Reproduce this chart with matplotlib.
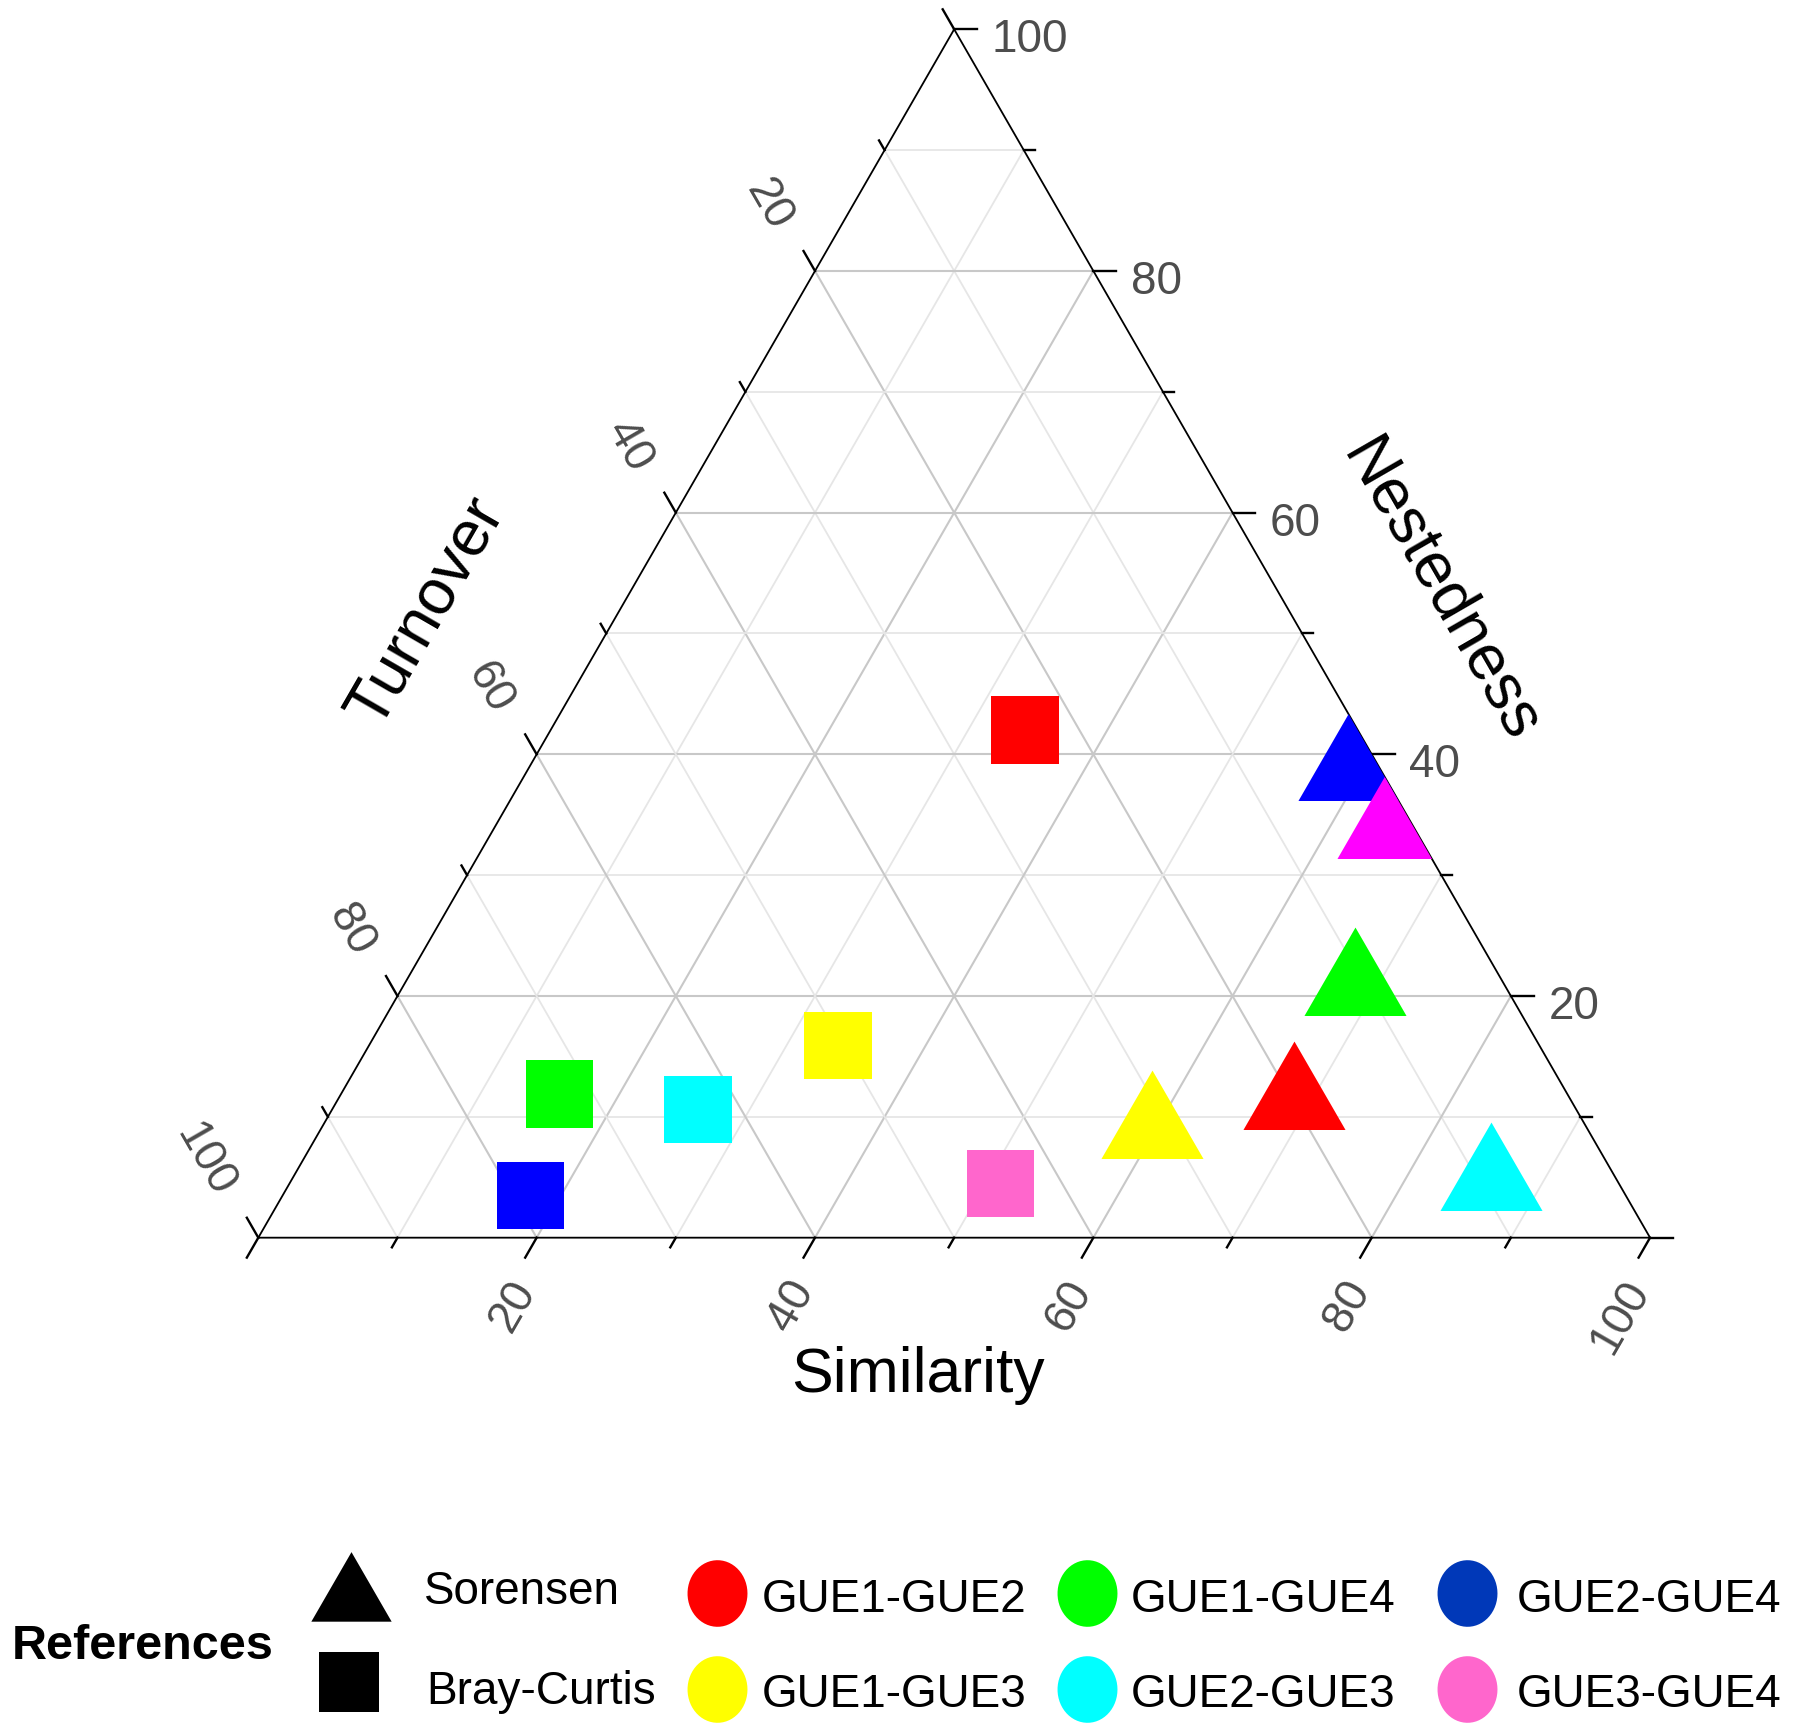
import numpy as np
import matplotlib
matplotlib.use("Agg")
import matplotlib.pyplot as plt
from matplotlib.path import Path
from matplotlib.patches import Polygon

plt.rcParams["font.family"] = ["Liberation Sans", "DejaVu Sans"]

# values in percent: Nestedness (top), Turnover (left), Similarity (right)
pairs = ["GUE1-GUE2", "GUE1-GUE3", "GUE1-GUE4", "GUE2-GUE3", "GUE2-GUE4", "GUE3-GUE4"]
sor_colors = ["#FF0000", "#FFFF00", "#00FF00", "#00FFFF", "#0000FF", "#FF00FF"]
bc_colors = ["#FF0000", "#FFFF00", "#00FF00", "#00FFFF", "#0000FF", "#FF66CC"]
legend_colors = ["#FF0000", "#FFFF00", "#00FF00", "#00FFFF", "#0038B8", "#FF66CC"]

sor_nested = [11.4, 9.0, 20.8, 4.7, 38.6, 33.8]
sor_turnover = [19.9, 31.3, 10.8, 9.1, 2.3, 1.9]
sor_similarity = [68.7, 59.7, 68.4, 86.2, 59.1, 64.3]

bc_nested = [42.0, 15.9, 11.9, 10.6, 3.5, 4.5]
bc_turnover = [23.9, 50.4, 72.4, 63.1, 78.7, 44.4]
bc_similarity = [34.1, 33.7, 15.7, 26.3, 17.8, 51.1]

tick_values = list(range(0, 101, 10))
label_values = [20, 40, 60, 80, 100]

H = np.sqrt(3) / 2
TICK_COLOR = "#4D4D4D"


def tern(n, t, s):
    n = np.asarray(n, float)
    t = np.asarray(t, float)
    s = np.asarray(s, float)
    tot = n + t + s
    n, s = n / tot, s / tot
    return s + n / 2, n * H


fig = plt.figure(figsize=(17.98, 17.34), dpi=100)
ax = fig.add_axes([0, 0, 1, 1])
ax.set_xlim(-0.1856, 1.1063)
ax.set_ylim(-0.3557, 0.8870)
ax.axis("off")

# grid
for v in range(10, 100, 10):
    f = v / 100
    major = v % 20 == 0
    col = "#C8C8C8" if major else "#E6E6E6"
    lw = 1.5 if major else 1.3
    lines = [
        (tern(f, 1 - f, 0), tern(f, 0, 1 - f)),   # nestedness
        (tern(1 - f, f, 0), tern(0, f, 1 - f)),   # turnover
        (tern(1 - f, 0, f), tern(0, 1 - f, f)),   # similarity
    ]
    for (x0, y0), (x1, y1) in lines:
        ax.plot([x0, x1], [y0, y1], color=col, lw=lw, zorder=1)

# triangle border
ax.plot([0, 1, 0.5, 0], [0, 0, H, 0], color="black", lw=1.3, zorder=3,
        solid_joinstyle="miter")

# ticks and labels
for v in tick_values:
    f = v / 100
    ln = 0.0165 if v % 20 == 0 else 0.008
    # similarity (bottom)
    x, y = tern(0, 1 - f, f)
    ax.plot([x, x - 0.5 * ln], [y, y - H * ln], color="black", lw=1.7, zorder=3)
    # turnover (left)
    x, y = tern(1 - f, f, 0)
    ax.plot([x, x - 0.5 * ln], [y, y + H * ln], color="black", lw=1.7, zorder=3)
    # nestedness (right)
    x, y = tern(f, 0, 1 - f)
    ax.plot([x, x + ln], [y, y], color="black", lw=1.7, zorder=3)

for v in label_values:
    f = v / 100
    x, y = tern(0, 1 - f, f)
    ax.text(x - 0.008, y - 0.033, str(v), rotation=60, ha="right", va="center",
            rotation_mode="anchor", fontsize=33, color=TICK_COLOR)
    x, y = tern(1 - f, f, 0)
    ax.text(x - 0.0243, y + 0.0317, str(v), rotation=-60, ha="right", va="center",
            rotation_mode="anchor", fontsize=33, color=TICK_COLOR)
    x, y = tern(f, 0, 1 - f)
    ax.text(x + 0.027, y - 0.008, str(v), ha="left", va="center",
            fontsize=33, color=TICK_COLOR)

ax.text(0.474, -0.099, "Similarity", ha="center", va="center", fontsize=45)
ax.text(0.121, 0.449, "Turnover", ha="center", va="center", rotation=60,
        rotation_mode="anchor", fontsize=46)
ax.text(0.849, 0.463, "Nestedness", ha="center", va="center", rotation=-60,
        rotation_mode="anchor", fontsize=46)

# points, clipped to the triangle
clip = Polygon([(0, 0), (1, 0), (0.5, H)], closed=True, transform=ax.transData,
               facecolor="none", edgecolor="none")
ax.add_patch(clip)

tri_marker = [(0, 1), (-np.sqrt(3) / 2, -0.5), (np.sqrt(3) / 2, -0.5), (0, 1)]

bx, by = tern(bc_nested, bc_turnover, bc_similarity)
sq = ax.scatter(bx, by, s=2350, marker="s", c=bc_colors, linewidths=0, zorder=4)
sq.set_clip_path(clip)

sx, sy = tern(sor_nested, sor_turnover, sor_similarity)
for i in range(len(pairs)):
    tr = ax.scatter([sx[i]], [sy[i]], s=7200, marker=tri_marker, c=[sor_colors[i]],
                    linewidths=0, zorder=4)
    tr.set_clip_path(clip)

# legend
theta = np.linspace(0, 2 * np.pi, 60)
ellipse_marker = Path(np.column_stack([0.9 * np.cos(theta), np.sin(theta)]), closed=True)

fig.text(0.0064, 0.0432, "References", fontsize=35, fontweight="bold", va="baseline")
ax.scatter([0.195], [0.0785], s=4460, marker=tri_marker, c="black", linewidths=0,
           transform=fig.transFigure, clip_on=False)
ax.scatter([0.194], [0.0300], s=1900, marker="s", c="black", linewidths=0,
           transform=fig.transFigure, clip_on=False)
fig.text(0.236, 0.0751, "Sorensen", fontsize=33, va="baseline")
fig.text(0.237, 0.0173, "Bray-Curtis", fontsize=33, va="baseline")

circ_x = [0.3990, 0.3990, 0.6045, 0.6045, 0.8160, 0.8160]
circ_y = [0.0812, 0.0262, 0.0812, 0.0262, 0.0812, 0.0262]
lab_x = [0.4237, 0.4237, 0.6290, 0.6290, 0.8435, 0.8435]
lab_y = [0.0704, 0.0153, 0.0704, 0.0153, 0.0704, 0.0153]
for i, name in enumerate(pairs):
    ax.scatter([circ_x[i]], [circ_y[i]], s=2300, marker=ellipse_marker,
               c=[legend_colors[i]], linewidths=0, transform=fig.transFigure,
               clip_on=False)
    fig.text(lab_x[i], lab_y[i], name, fontsize=33, va="baseline")

fig.savefig("out.png", dpi=100, facecolor="white")
